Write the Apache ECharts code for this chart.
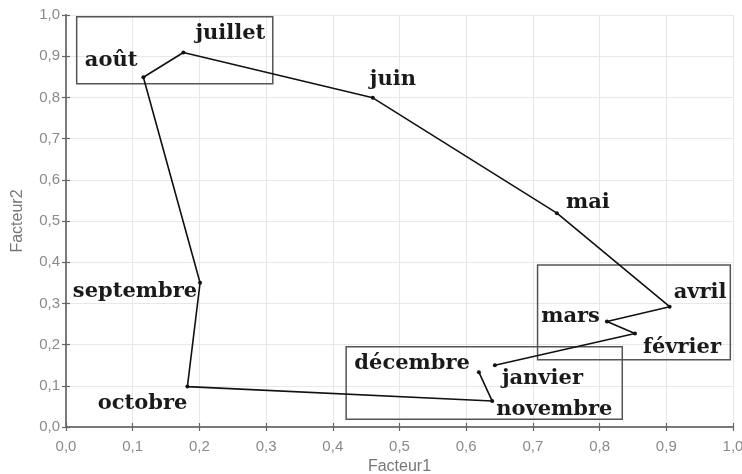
<!DOCTYPE html>
<html>
<head>
<meta charset="utf-8">
<script src="https://cdn.jsdelivr.net/npm/echarts@6/dist/echarts.min.js"></script>
<style>
  html, body { margin: 0; padding: 0; background: #fff; }
  #chart { width: 742px; height: 474px; }
</style>
</head>
<body>
<div id="chart"></div>
<script>
// Monthly coordinates on the first two factors, in calendar order
const months = ['janvier', 'février', 'mars', 'avril', 'mai', 'juin',
                'juillet', 'août', 'septembre', 'octobre', 'novembre', 'décembre'];
const facteur1 = [0.643, 0.853, 0.811, 0.905, 0.736, 0.460,
                  0.176, 0.116, 0.201, 0.182, 0.639, 0.619];
const facteur2 = [0.150, 0.227, 0.256, 0.292, 0.519, 0.799,
                  0.909, 0.849, 0.350, 0.098, 0.063, 0.133];

// Groups of months outlined by rectangles: [x1, y1, x2, y2] in factor units
const groupBoxes = [
  [0.016, 0.833, 0.310, 0.996],
  [0.707, 0.163, 0.996, 0.393],
  [0.420, 0.019, 0.834, 0.195]
];

const axisTicks = [0, 0.1, 0.2, 0.3, 0.4, 0.5, 0.6, 0.7, 0.8, 0.9, 1.0];

// Label placement around each point: alignment and pixel offset
const labelPlacement = {
  'janvier':   { align: 'left',  offset: [7, 13] },
  'février':   { align: 'left',  offset: [8, 14] },
  'mars':      { align: 'right', offset: [-7, -5] },
  'avril':     { align: 'left',  offset: [4, -14] },
  'mai':       { align: 'left',  offset: [9, -11] },
  'juin':      { align: 'left',  offset: [-3, -18] },
  'juillet':   { align: 'left',  offset: [12, -19] },
  'août':      { align: 'right', offset: [-6, -17] },
  'septembre': { align: 'right', offset: [-3, 9] },
  'octobre':   { align: 'right', offset: [0, 17] },
  'novembre':  { align: 'left',  offset: [4, 9] },
  'décembre':  { align: 'right', offset: [-9, -9] }
};

const fmt = v => v.toFixed(1).replace('.', ',');

const points = months.map((m, i) => ({
  value: [facteur1[i], facteur2[i]],
  name: m,
  label: {
    position: 'inside',
    align: labelPlacement[m].align,
    verticalAlign: 'middle',
    offset: labelPlacement[m].offset
  }
}));

const frameLine = { show: true, lineStyle: { color: '#7a7a7a', width: 1.8 } };
const innerTick = { show: true, inside: true, length: 4, lineStyle: { color: '#666', width: 1.2 } };

const axisCommon = {
  type: 'value',
  min: axisTicks[0],
  max: axisTicks[axisTicks.length - 1],
  interval: 0.1,
  nameLocation: 'middle',
  nameTextStyle: { fontFamily: 'Liberation Sans', fontSize: 16, color: '#777' },
  axisLine: frameLine,
  axisTick: innerTick,
  axisLabel: { fontFamily: 'Liberation Sans', fontSize: 15, color: '#8a8a8a', formatter: fmt },
  splitLine: { show: true, lineStyle: { color: '#e8e8e8', width: 1 } }
};

// Axes on the opposite sides only close the frame and carry ticks
const mirrorAxis = {
  type: 'value',
  min: axisTicks[0],
  max: axisTicks[axisTicks.length - 1],
  interval: 0.1,
  axisLine: frameLine,
  axisTick: innerTick,
  axisLabel: { show: false },
  splitLine: { show: false }
};

const chart = echarts.init(document.getElementById('chart'), null, { renderer: 'canvas' });
chart.setOption({
  backgroundColor: '#fff',
  animation: false,
  grid: {
    left: 66, right: 9, top: 15, bottom: 47,
    containLabel: false, outerBoundsMode: 'none'
  },
  xAxis: [
    Object.assign({}, axisCommon, {
      name: 'Facteur1', nameGap: 30, position: 'bottom',
      axisLabel: Object.assign({}, axisCommon.axisLabel, { margin: 12 })
    }),
    Object.assign({}, mirrorAxis, { position: 'top' })
  ],
  yAxis: [
    Object.assign({}, axisCommon, {
      name: 'Facteur2', nameGap: 40, position: 'left',
      axisLabel: Object.assign({}, axisCommon.axisLabel, { margin: 6 })
    }),
    Object.assign({}, mirrorAxis, { position: 'right' })
  ],
  series: [{
    type: 'line',
    data: points,
    symbol: 'circle',
    symbolSize: 4,
    itemStyle: { color: '#111' },
    lineStyle: { color: '#111', width: 1.6 },
    label: {
      show: true,
      formatter: p => p.name,
      fontFamily: 'DejaVu Serif',
      fontWeight: 'bold',
      fontSize: 21,
      color: '#1a1a1a'
    },
    markArea: {
      silent: true,
      itemStyle: { color: 'rgba(0,0,0,0)', borderColor: '#555', borderWidth: 1.5 },
      data: groupBoxes.map(b => [{ coord: [b[0], b[1]] }, { coord: [b[2], b[3]] }])
    },
    z: 3
  }]
});
</script>
</body>
</html>
